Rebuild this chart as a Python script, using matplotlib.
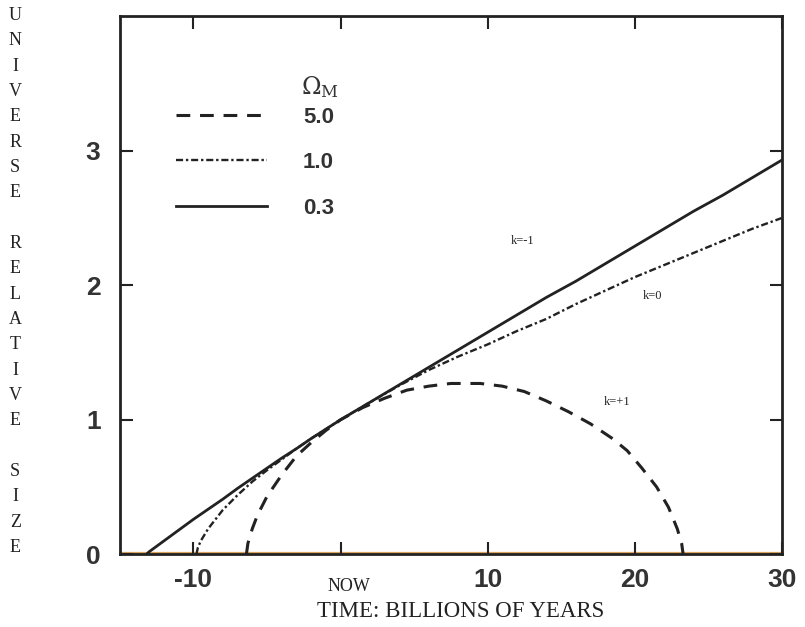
import matplotlib
matplotlib.use("Agg")
import matplotlib.pyplot as plt

# ---- data ----
# Omega_M = 5.0 (k=+1, closed)
t_closed = [-6.4, -6.3, -6.0, -5.65, -5.0, -4.0, -3.0, -2.0, -1.0, 0.0, 1.5, 3.0,
            4.5, 6.0, 7.5, 8.5, 9.5, 11.0, 12.5, 14.0, 15.5, 17.0, 18.5, 19.5,
            20.5, 21.5, 22.3, 22.9, 23.2, 23.3]
a_closed = [0.00, 0.08, 0.19, 0.29, 0.43, 0.59, 0.73, 0.83, 0.92, 1.00, 1.09, 1.16,
            1.22, 1.25, 1.27, 1.27, 1.27, 1.25, 1.21, 1.14, 1.06, 0.97, 0.86, 0.77,
            0.64, 0.50, 0.35, 0.19, 0.08, 0.00]

# Omega_M = 1.0 (k=0, flat)
t_flat = [-9.8, -9.7, -9.5, -9.0, -8.5, -8.0, -7.0, -6.0, -5.0, -4.0, -3.0, -2.0,
          -1.0, 0.0, 2.0, 4.0, 6.0, 8.0, 10.0, 12.0, 14.0, 16.0, 18.0, 20.0,
          22.0, 24.0, 26.0, 28.0, 30.0]
a_flat = [0.00, 0.05, 0.10, 0.19, 0.26, 0.33, 0.44, 0.54, 0.625, 0.705, 0.785, 0.86,
          0.93, 1.00, 1.13, 1.255, 1.37, 1.47, 1.56, 1.66, 1.75, 1.86, 1.96, 2.06,
          2.15, 2.24, 2.33, 2.42, 2.50]

# Omega_M = 0.3 (k=-1, open)
t_open = [-13.2, -13.0, -12.5, -12.0, -11.0, -10.0, -9.0, -8.0, -7.0, -6.0,
          -5.0, -4.0, -3.0, -2.0, -1.0, 0.0, 1.0, 2.0, 4.0, 6.0, 8.0, 10.0, 12.0,
          14.0, 16.0, 18.0, 20.0, 22.0, 24.0, 26.0, 28.0, 30.0]
a_open = [0.00, 0.02, 0.06, 0.10, 0.18, 0.26, 0.335, 0.41, 0.49, 0.565,
          0.64, 0.715, 0.785, 0.86, 0.93, 1.00, 1.065, 1.13, 1.26, 1.39, 1.52, 1.65,
          1.78, 1.91, 2.03, 2.16, 2.29, 2.42, 2.55, 2.67, 2.80, 2.93]

omega_labels = ["5.0", "1.0", "0.3"]
legend_title = r"$\Omega_{\mathrm{M}}$"
curve_labels = ["k=+1", "k=0", "k=-1"]
x_ticks = [-10, 0, 10, 20, 30]
x_tick_labels = ["-10", "", "10", "20", "30"]
y_ticks = [0, 1, 2, 3]
y_tick_labels = ["0", "1", "2", "3"]
ylabel_words = ["UNIVERSE", "RELATIVE", "SIZE"]

# ---- figure ----
plt.rcParams["mathtext.fontset"] = "dejavuserif"
fig = plt.figure(figsize=(8.05, 6.27), dpi=100)
ax = fig.add_axes([0.149, 0.116, 0.822, 0.858])

ink = "#222222"
serif = ["Liberation Serif", "DejaVu Serif"]
sans = ["Liberation Sans", "DejaVu Sans"]

# baseline tint along y=0
ax.axhline(0.012, color="#d9a35e", lw=1.6, zorder=1)

l5, = ax.plot(t_closed, a_closed, color=ink, lw=2.2, linestyle=(0, (4.5, 3.2)), zorder=3)
l1, = ax.plot(t_flat, a_flat, color=ink, lw=1.7,
              linestyle=(0, (3.0, 1.2, 1.0, 1.2)), zorder=3)
l03, = ax.plot(t_open, a_open, color=ink, lw=2.0, linestyle="-", zorder=3)

ax.set_xlim(-15, 30)
ax.set_ylim(0, 4)
ax.set_xticks(x_ticks)
ax.set_xticklabels(x_tick_labels)
ax.set_yticks(y_ticks)
ax.set_yticklabels(y_tick_labels)
ax.tick_params(direction="in", length=9, width=1.5, color=ink,
               top=True, right=True, labelsize=19, labelcolor="#333333")
ax.tick_params(axis="x", pad=10)
ax.tick_params(axis="y", pad=14)
for lab in ax.get_xticklabels() + ax.get_yticklabels():
    lab.set_fontweight("bold")
    lab.set_family(sans)
for sp in ax.spines.values():
    sp.set_linewidth(2.0)
    sp.set_color(ink)

# curve annotations
ax.text(18.8, 1.13, curve_labels[0], family=serif, fontsize=9, color=ink,
        ha="center", va="center")
ax.text(21.2, 1.92, curve_labels[1], family=serif, fontsize=9, color=ink,
        ha="center", va="center")
ax.text(12.35, 2.33, curve_labels[2], family=serif, fontsize=9, color=ink,
        ha="center", va="center")

# legend
leg = ax.legend([l5, l1, l03], omega_labels,
                loc="upper left", bbox_to_anchor=(0.055, 0.869), frameon=False,
                handlelength=4.1, handletextpad=1.6, labelspacing=1.1,
                prop={"family": sans, "weight": "bold", "size": 16})
for txt in leg.get_texts():
    txt.set_color("#333333")
ax.text(0.302, 0.868, legend_title, transform=ax.transAxes, fontsize=17,
        ha="center", va="center", color="#333333")

# x-axis labels
ax.text(0.6, -0.045, "NOW", transform=ax.get_xaxis_transform(), family=serif,
        fontsize=13, ha="center", va="top", color=ink)
fig.text(0.572, 0.025, "TIME: BILLIONS OF YEARS", family=serif, fontsize=16.5,
         ha="center", va="center", color=ink)

# vertical stacked y label
letters = []
for i, w in enumerate(ylabel_words):
    if i > 0:
        letters.append(" ")
    letters.extend(list(w))
fig.text(0.019, 0.551, "\n".join(letters), family=serif, fontsize=13,
         ha="center", va="center", color=ink, linespacing=1.64)

fig.savefig("out.png", dpi=100)
